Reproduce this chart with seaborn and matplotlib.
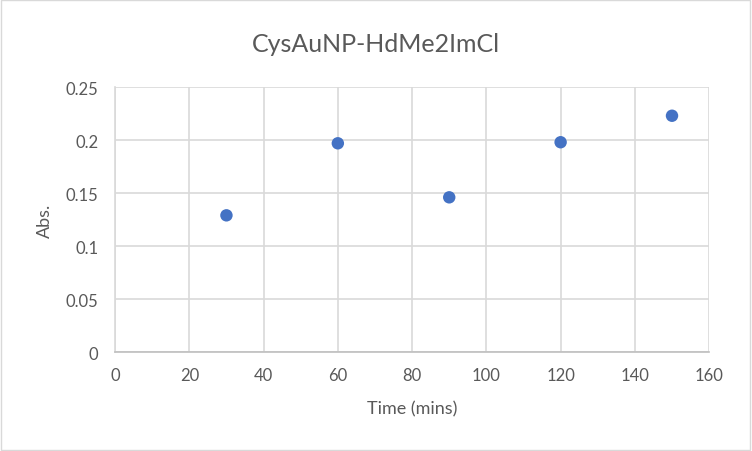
import matplotlib
matplotlib.use("Agg")
import matplotlib.pyplot as plt
import seaborn as sns
import pandas as pd
from matplotlib.ticker import FuncFormatter, MultipleLocator
from matplotlib.patches import Rectangle

# data
time_mins = [30, 60, 90, 120, 150]
absorbance = [0.129, 0.197, 0.146, 0.198, 0.223]

df = pd.DataFrame({"Time (mins)": time_mins, "Abs.": absorbance})

sns.set_style("white")
plt.rcParams['font.family'] = ['Lato', 'DejaVu Sans']

fig = plt.figure(figsize=(7.52, 4.52), dpi=100)
ax = fig.add_axes([0.153, 0.219, 0.790, 0.586])

sns.scatterplot(data=df, x="Time (mins)", y="Abs.", ax=ax, s=80,
                color="#4472C4", edgecolor="none", zorder=3)

ax.set_xlim(0, 160)
ax.set_ylim(0, 0.25)
ax.xaxis.set_major_locator(MultipleLocator(20))
ax.yaxis.set_major_locator(MultipleLocator(0.05))
ax.yaxis.set_major_formatter(FuncFormatter(lambda v, p: f"{round(v, 2):g}"))
ax.grid(True, color="#d9d9d9", linewidth=1.2)
ax.set_axisbelow(True)

for side in ["top", "right"]:
    ax.spines[side].set_visible(False)
ax.spines["left"].set_color("#d9d9d9")
ax.spines["bottom"].set_color("#bfbfbf")
ax.spines["left"].set_linewidth(1.2)
ax.spines["bottom"].set_linewidth(1.2)

ax.tick_params(axis="both", length=0, labelsize=12, labelcolor="#595959")
ax.tick_params(axis="x", pad=11)
ax.tick_params(axis="y", pad=12)

ax.set_xlabel("Time (mins)", fontsize=13, color="#595959", va="center")
ax.set_ylabel("Abs.", fontsize=13, color="#595959", va="center")
ax.xaxis.set_label_coords(0.5, -0.211)
ax.yaxis.set_label_coords(-0.118, 0.5)

fig.text(0.5, 1 - 45 / 452, "CysAuNP-HdMe2ImCl", fontsize=18, color="#595959",
         ha="center", va="center")

fig.patches.append(Rectangle((0.001, 0.002), 0.997, 0.995, transform=fig.transFigure,
                             fill=False, edgecolor="#d9d9d9", linewidth=1))

fig.savefig("out.png", dpi=100)
